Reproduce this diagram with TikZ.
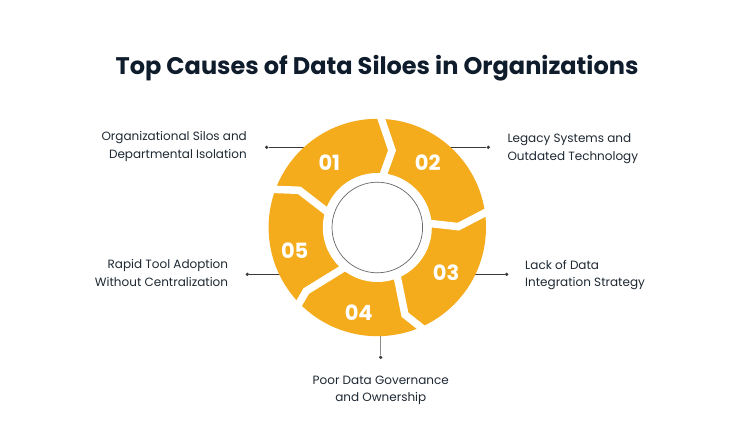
\documentclass[tikz,border=0pt]{standalone}
\usepackage{fontspec}
\setmainfont{Poppins}
\definecolor{ringorange}{HTML}{F4AC1C}
\definecolor{titlecol}{HTML}{0E1C2B}
\definecolor{textcol}{HTML}{1F2933}
\definecolor{linecol}{HTML}{3A3A3A}
\definecolor{vlinecol}{HTML}{8A8A8A}
\definecolor{circlecol}{HTML}{666666}
\begin{document}
\begin{tikzpicture}[x=1pt,y=1pt,
  lbltxt/.style={font=\fontsize{12}{17.4}\selectfont, text=textcol, inner sep=0pt},
  numtxt/.style={font=\fontsize{21}{21}\selectfont\bfseries, text=white, inner sep=0pt},
  gapline/.style={draw=white, line width=7.5pt, line join=miter, miter limit=20},
  connline/.style={draw=linecol, line width=0.9pt},
  dotmark/.style={circle, fill=linecol, inner sep=0pt, minimum size=3.6pt}]
\useasboundingbox[fill=white] (0,0) rectangle (754,-446);
\node[font=\fontsize{24}{28}\selectfont\bfseries, text=titlecol] (title) at (377,-68) {Top Causes of Data Siloes in Organizations};

% connectors (drawn under the ring)
\node[dotmark] (d1) at (266.7,-147.3) {};
\node[dotmark] (d2) at (488.3,-147.3) {};
\node[dotmark] (d3) at (506.7,-274.3) {};
\node[dotmark] (d4) at (380.7,-357.3) {};
\node[dotmark] (d5) at (247.3,-274.3) {};
\coordinate (e1) at (312,-147.3);
\coordinate (e2) at (443,-147.3);
\coordinate (e3) at (468,-274.3);
\coordinate (e4) at (380.7,-328);
\coordinate (e5) at (287,-274.3);
\draw[connline] (d1) -- (e1);
\draw[connline] (d2) -- (e2);
\draw[connline] (d3) -- (e3);
\draw[connline, draw=vlinecol] (d4) -- (e4);
\draw[connline] (d5) -- (e5);

% ring
\coordinate (C) at (377.3,-227.5);
\fill[ringorange] (C) circle[radius=108.7];
\begin{scope}[shift={(C)}]
  \draw[gapline] (89.6:118) -- (79.2:78.5) -- (85.7:46);
  \draw[gapline] (9.4:118) -- (0.6:81) -- (6:46);
  \draw[gapline] (-64.1:118) -- (-72.4:91.5) -- (-66.3:46);
  \draw[gapline] (-134.7:118) -- (-138.2:95.3) -- (-126.9:46);
  \draw[gapline] (161:118) -- (154.5:86.4) -- (165.7:46);
\end{scope}
\fill[white] (C) circle[radius=54.5];
\draw[circlecol, line width=0.7pt] (C) circle[radius=45.3];

% numbers
\node[numtxt] (n1) at (329.3,-162.7) {01};
\node[numtxt] (n2) at (427.7,-162.7) {02};
\node[numtxt] (n3) at (446,-272.7) {03};
\node[numtxt] (n4) at (358.7,-312.7) {04};
\node[numtxt] (n5) at (294.7,-250.3) {05};

% labels
\node[lbltxt, align=right, anchor=east] (l1) at (247,-146.3) {Organizational Silos and\\Departmental Isolation};
\node[lbltxt, align=left, anchor=west] (l2) at (507.3,-148.8) {Legacy Systems and\\Outdated Technology};
\node[lbltxt, align=left, anchor=west] (l3) at (525,-275) {Lack of Data\\Integration Strategy};
\node[lbltxt, align=center] (l4) at (380.8,-390.5) {Poor Data Governance\\and Ownership};
\node[lbltxt, align=right, anchor=east] (l5) at (228.3,-272.8) {Rapid Tool Adoption\\Without Centralization};
\end{tikzpicture}
\end{document}
